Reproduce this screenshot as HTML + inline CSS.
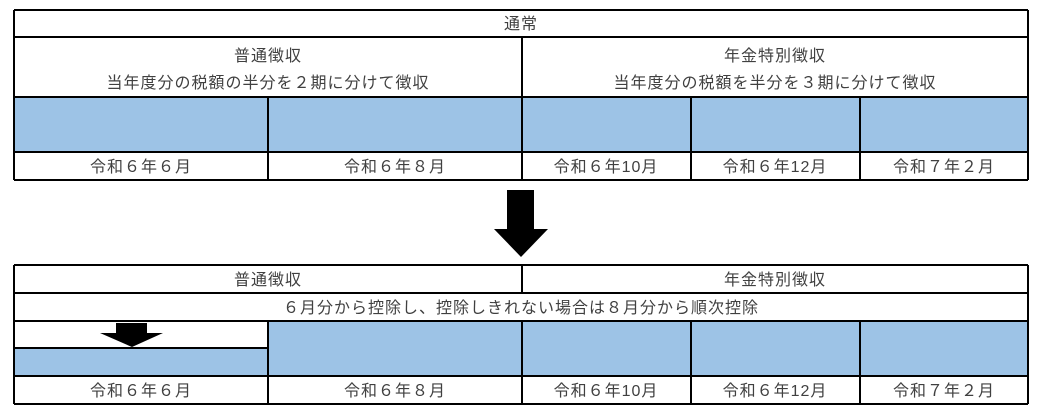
<!DOCTYPE html>
<html><head><meta charset="utf-8"><style>
body{margin:0;background:#fff;width:1043px;height:412px;overflow:hidden}
text{font-family:"Liberation Sans","Noto Sans CJK JP",sans-serif;font-size:16px;letter-spacing:1px;fill:#404040;text-anchor:middle}
</style></head><body>
<svg width="1043" height="412" xmlns="http://www.w3.org/2000/svg">
<g fill="#9dc3e6">
<rect x="14" y="97" width="1014" height="55"/>
<rect x="14" y="348" width="254" height="28"/>
<rect x="268" y="321" width="760" height="55"/>
</g>
<g stroke="#000" stroke-width="2" fill="none">
<path d="M14 10H1028M14 37H1028M14 97H1028M14 152H1028M14 180H1028"/>
<path d="M14 10V180M1028 10V180M522 37V180M268 97V180M691 97V180M860 97V180"/>
<path d="M14 265H1028M14 293H1028M14 321H1028M14 348H268M14 376H1028M14 404H1028"/>
<path d="M14 265V404M1028 265V404M522 265V293M268 321V404M522 321V404M691 321V404M860 321V404"/>
</g>
<polygon points="507,190 534,190 534,229 548,229 521,257 494,229 507,229" fill="#000"/>
<polygon points="116,323 147,323 147,333 163,333 132,347 100,333 116,333" fill="#000"/>
<text x="521" y="29">通常</text>
<text x="268" y="61">普通徴収</text>
<text x="268" y="88">当年度分の税額の半分を２期に分けて徴収</text>
<text x="775" y="61">年金特別徴収</text>
<text x="775" y="88">当年度分の税額を半分を３期に分けて徴収</text>
<text x="141" y="172">令和６年６月</text>
<text x="395" y="172">令和６年８月</text>
<text x="606" y="172">令和６年10月</text>
<text x="775" y="172">令和６年12月</text>
<text x="944" y="172">令和７年２月</text>
<text x="268" y="285">普通徴収</text>
<text x="775" y="285">年金特別徴収</text>
<text x="521" y="313">６月分から控除し、控除しきれない場合は８月分から順次控除</text>
<text x="141" y="396">令和６年６月</text>
<text x="395" y="396">令和６年８月</text>
<text x="606" y="396">令和６年10月</text>
<text x="775" y="396">令和６年12月</text>
<text x="944" y="396">令和７年２月</text>
</svg>
</body></html>
